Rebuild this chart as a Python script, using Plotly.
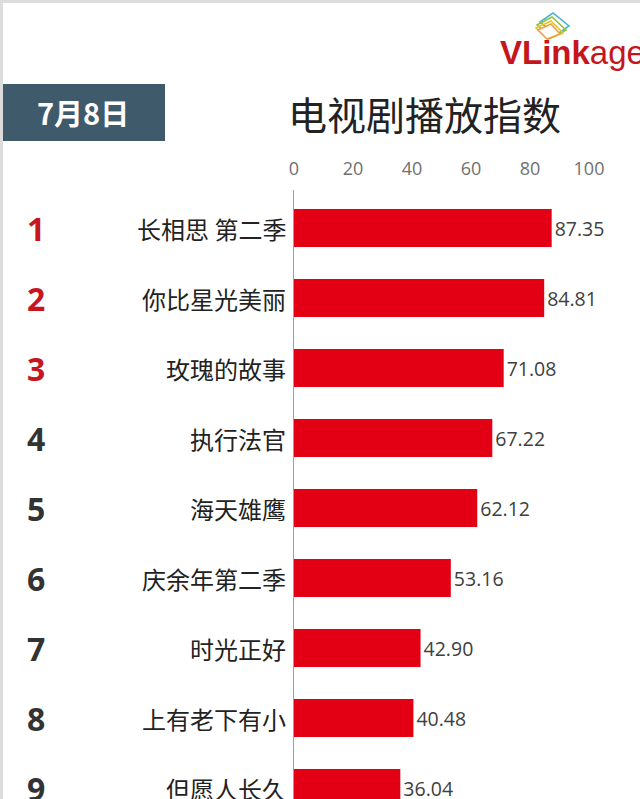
import plotly.graph_objects as go

# ---- data ----
ranks = ["1", "2", "3", "4", "5", "6", "7", "8", "9"]
shows = ["长相思 第二季", "你比星光美丽", "玫瑰的故事", "执行法官", "海天雄鹰",
         "庆余年第二季", "时光正好", "上有老下有小", "但愿人长久"]
values = [87.35, 84.81, 71.08, 67.22, 62.12, 53.16, 42.90, 40.48, 36.04]
tick_vals = [0, 20, 40, 60, 80, 100]
title_text = "电视剧播放指数"
date_text = "7月8日"

W, H = 640, 799
L, R, T, B = 294, 20, 190, 0
PW, PH = W - L - R, H - T - B

def px(x):
    return (x - L) / PW

def py(y):
    return (H - B - y) / PH

FONT = "Open Sans, Noto Sans CJK SC, sans-serif"
CJK = "Noto Sans CJK SC, sans-serif"
RED = "#e30014"

fig = go.Figure()
fig.add_trace(go.Bar(
    x=values, y=list(range(len(shows))), orientation="h",
    marker=dict(color=RED, line=dict(width=0)),
    width=0.543,
    text=[f"{v:.2f}" for v in values], textposition="outside",
    textfont=dict(family=FONT, size=19.5, color="#404040"),
    cliponaxis=False, hoverinfo="skip",
))

annotations = []
for i, (rk, nm) in enumerate(zip(ranks, shows)):
    annotations.append(dict(
        x=px(288), xref="paper", y=i, yref="y", text=nm, showarrow=False,
        xanchor="right", yanchor="middle",
        font=dict(family=CJK, size=24, color="#222222")))
    annotations.append(dict(
        x=px(36), xref="paper", y=i, yref="y", text=f"<b>{rk}</b>", showarrow=False,
        xanchor="center", yanchor="middle",
        font=dict(family=FONT, size=32, color="#c8161f" if i < 3 else "#333333")))

# title
annotations.append(dict(x=px(424), y=py(113), xref="paper", yref="paper", text=title_text,
                        showarrow=False, xanchor="center", yanchor="middle",
                        font=dict(family=CJK, size=39, color="#222222")))
# date box text
annotations.append(dict(x=px(83), y=py(112), xref="paper", yref="paper", text=f"<b>{date_text}</b>",
                        showarrow=False, xanchor="center", yanchor="middle",
                        font=dict(family=CJK, size=29, color="#ffffff")))
# logo
annotations.append(dict(x=px(498), y=py(52), xref="paper", yref="paper",
                        text="<b>VLink</b>age", showarrow=False, xanchor="left", yanchor="middle",
                        font=dict(family="Liberation Sans, Arial, sans-serif", size=33, color="#c4161c")))

shapes = [
    # borders
    dict(type="rect", xref="paper", yref="paper", x0=px(0), x1=px(3), y0=py(799), y1=py(0),
         fillcolor="#dcdcdc", line=dict(width=0), layer="below"),
    dict(type="rect", xref="paper", yref="paper", x0=px(0), x1=px(640), y0=py(3), y1=py(0),
         fillcolor="#dcdcdc", line=dict(width=0), layer="below"),
    # date box
    dict(type="rect", xref="paper", yref="paper", x0=px(3), x1=px(165), y0=py(141), y1=py(84),
         fillcolor="#3e5a6b", line=dict(width=0), layer="below"),
]

def quad(pts, color, fill="rgba(0,0,0,0)"):
    p = "M " + " L ".join(f"{px(x):.5f},{py(y):.5f}" for x, y in pts) + " Z"
    return dict(type="path", xref="paper", yref="paper", path=p,
                line=dict(color=color, width=1.6), fillcolor=fill)

shapes += [
    quad([(540, 22), (553, 13), (569, 26), (556, 35)], "#4fb3cf"),
    quad([(537, 25), (552, 17), (566, 30), (551, 38)], "#8cc63f"),
    quad([(536, 28), (551, 21), (563, 33), (548, 39)], "#f0c020"),
    quad([(538, 30), (551, 24), (560, 34), (547, 39)], "#f0a040", "#ffffff"),
]

fig.update_layout(
    width=W, height=H,
    margin=dict(l=L, r=R, t=T, b=B, pad=0),
    paper_bgcolor="white", plot_bgcolor="white",
    showlegend=False,
    font=dict(family=FONT),
    xaxis=dict(range=[0, PW / 2.95], side="top", tickvals=tick_vals,
               showgrid=False, zeroline=False, showline=False,
               ticks="", ticklabelstandoff=10,
               tickfont=dict(family=FONT, size=18, color="#707070"), fixedrange=True),
    yaxis=dict(range=[(H - 228) / 70, -(228 - T) / 70], showticklabels=False,
               showgrid=False, zeroline=False, showline=True, linecolor="#a0a0a0",
               linewidth=1, ticks="", fixedrange=True),
    annotations=annotations, shapes=shapes,
)

fig.write_html("out.html", config={"displayModeBar": False},
               post_script="document.body.style.margin='0px';document.body.style.overflow='hidden';")
